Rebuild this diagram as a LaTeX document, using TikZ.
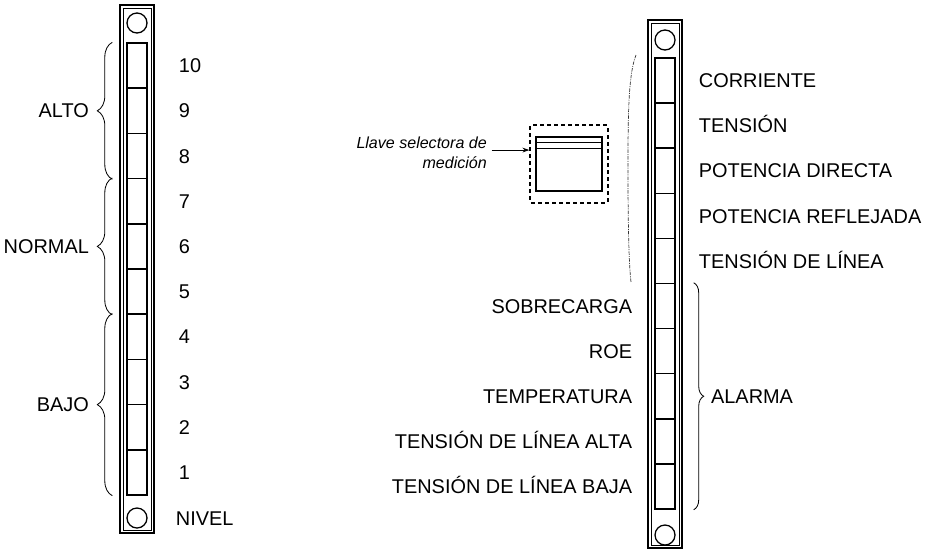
\documentclass[tikz,border=0pt]{standalone}
\usepackage{fontspec}
\setmainfont{Liberation Sans}
\usetikzlibrary{positioning,decorations.pathreplacing,arrows.meta}

\begin{document}
\begin{tikzpicture}[x=0.03cm, y=-0.03cm,
        lbl/.style={font=\fontsize{17}{20}\selectfont, inner sep=0pt, text height=12.2pt, text depth=0pt},
        note/.style={font=\fontsize{13.7}{17}\selectfont\itshape, inner sep=0pt, align=right},
        cell/.style={draw, line width=1.2pt, minimum width=0.6cm, minimum height=1.355cm, inner sep=0pt},
        knob/.style={draw, circle, line width=1.1pt, minimum size=0.6cm, inner sep=0pt},
        frame/.style={line width=1.3pt},
        inframe/.style={line width=0.6pt},
        brc/.style={decorate, decoration={brace, amplitude=#1}, line width=0.7pt},
        brc/.default=0.45cm,
        dotline/.style={line width=0.6pt, black!80, dash pattern=on 3pt off 1pt on 0.8pt off 1pt}]

    \useasboundingbox (0,0) rectangle (927,551);

    \draw[frame] (120,5) rectangle (154,533);

    \draw[inframe] (123,8) rectangle (151,530);

    \node[knob] (ltop) at (137,23) {};

    \node[knob] (lbot) at (137,518) {};

    \foreach \i in {1,...,10}
        \node[cell] (l\i) at (137,{472.4-45.2*(\i-1)}) {};

    \foreach \i in {1,...,10}
        \node[lbl, right=0.93cm of l\i] (n\i) {\i};

    \node[lbl, right=0.84cm of lbot] (nivel) {NIVEL};

    \draw[brc] ([xshift=-0.42cm]l8.south west) -- node[lbl, midway, left=0.69cm] (alto) {ALTO} ([xshift=-0.42cm]l10.north west);

    \draw[brc] ([xshift=-0.42cm]l5.south west) -- node[lbl, midway, left=0.69cm] (normal) {NORMAL} ([xshift=-0.42cm]l7.north west);

    \draw[brc] ([xshift=-0.42cm]l1.south west) -- node[lbl, midway, left=0.69cm] (bajo) {BAJO} ([xshift=-0.42cm]l4.north west);

    \draw[frame] (648,20) rectangle (682,548);

    \draw[inframe] (651,23) rectangle (679,545);

    \node[knob] (rtop) at (665,40) {};

    \node[knob] (rbot) at (665,535) {};

    \foreach \i in {1,...,10}
        \node[cell] (r\i) at (665,{80.55+45.1*(\i-1)}) {};

    \foreach \t [count=\i] in {CORRIENTE, TENSIÓN, POTENCIA DIRECTA, POTENCIA REFLEJADA, TENSIÓN DE LÍNEA}
        \node[lbl, right=0.69cm of r\i] (m\i) {\t};

    \foreach \t [count=\i from 6] in {SOBRECARGA, ROE, TEMPERATURA, TENSIÓN DE LÍNEA ALTA, TENSIÓN DE LÍNEA BAJA}
        \node[lbl, left=0.66cm of r\i] (a\i) {\t};

    \draw[brc=0.3cm] ([xshift=0.54cm]r6.north east) -- node[lbl, midway, right=0.51cm] (alarma) {ALARMA} ([xshift=0.54cm]r10.south east);

    \draw[dotline] (636,55) .. controls (628,75) and (628,120) .. (628,170) .. controls (628,230) and (629,265) .. (631,282);

    \node[draw, dashed, line width=0.9pt, rounded corners=1pt, minimum width=2.34cm, minimum height=2.34cm] (sel) at (569,164) {};

    \node[draw, line width=1.2pt, minimum width=1.98cm, minimum height=1.62cm, inner sep=0pt] (win) at (569,164) {};

    \draw[line width=1pt] ([yshift=-5.1pt]win.north west) -- ([yshift=-5.1pt]win.north east);

    \draw[line width=0.5pt] ([yshift=-10.2pt]win.north west) -- ([yshift=-10.2pt]win.north east);

    \node[note, anchor=east] (llave) at (487,153) {Llave selectora de\\medición};

    \coordinate (ar) at ([xshift=4pt,yshift=2.5pt]llave.east);

    \draw[-{Stealth[length=6pt,width=4pt]}, line width=0.9pt] (ar) -- (ar -| sel.west);
\end{tikzpicture}
\end{document}
